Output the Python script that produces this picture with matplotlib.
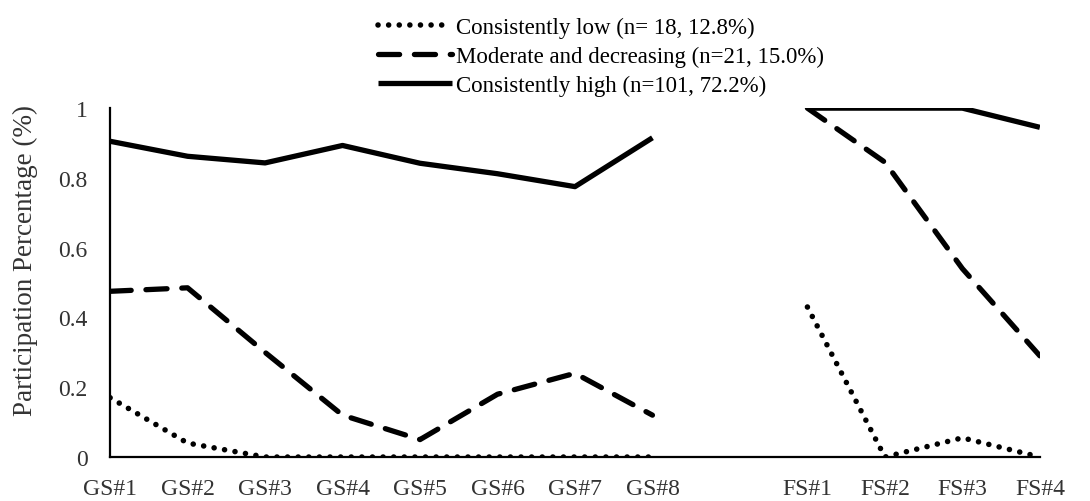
import numpy as np
import matplotlib
matplotlib.use("Agg")
import matplotlib.pyplot as plt

plt.rcParams['font.family'] = ['Liberation Serif', 'DejaVu Serif']

categories = ["GS#1", "GS#2", "GS#3", "GS#4", "GS#5", "GS#6", "GS#7", "GS#8",
              "", "FS#1", "FS#2", "FS#3", "FS#4"]
low = [0.17, 0.04, 0.0, 0.0, 0.0, 0.0, 0.0, 0.0, np.nan, 0.43, 0.0, 0.055, 0.0]
moderate = [0.475, 0.485, 0.30, 0.12, 0.05, 0.18, 0.24, 0.12, np.nan, 1.0, 0.845, 0.54, 0.29]
high = [0.905, 0.862, 0.843, 0.893, 0.842, 0.812, 0.775, 0.915, np.nan, 1.0, 1.0, 1.0, 0.945]
labels = ["Consistently low (n= 18, 12.8%)",
          "Moderate and decreasing (n=21, 15.0%)",
          "Consistently high (n=101, 72.2%)"]
yticks = [0, 0.2, 0.4, 0.6, 0.8, 1]
ytick_labels = ["0", "0.2", "0.4", "0.6", "0.8", "1"]

fig = plt.figure(figsize=(10.9, 5.02), dpi=100)
ax = fig.add_axes([0.101, 0.0876, 0.853, 0.695])
x = np.arange(len(categories))

ax.plot(x, low, color='black', lw=4.0, linestyle=(0, (0.01, 1.9)),
        dash_capstyle='round', label=labels[0])
ax.plot(x, moderate, color='black', lw=3.8, linestyle=(0, (4.0, 2.8)),
        dash_capstyle='round', label=labels[1])
ax.plot(x, high, color='black', lw=3.8, solid_capstyle='butt', label=labels[2])

ax.set_xlim(0, len(categories) - 1)
ax.set_ylim(0, 1)
ax.set_xticks(x)
ax.set_xticklabels(categories, fontsize=17)
ax.set_yticks(yticks)
ax.set_yticklabels(ytick_labels, fontsize=17)
ax.tick_params(axis='both', length=0, colors='#333333')
ax.tick_params(axis='x', pad=15)
ax.tick_params(axis='y', pad=16)
for s in ['top', 'right']:
    ax.spines[s].set_visible(False)
for s in ['left', 'bottom']:
    ax.spines[s].set_linewidth(1.6)
    ax.spines[s].set_color('black')
ax.set_ylabel("Participation Percentage (%)", fontsize=19.5, color='#333333')
ax.yaxis.set_label_coords(-0.077, 0.565)

fig.legend(loc='upper left', bbox_to_anchor=(0.347, 0.965), frameon=False,
           fontsize=16.5, handlelength=3.2, handletextpad=0.2,
           borderaxespad=0, borderpad=0, labelspacing=0.35)

fig.savefig("out.png", dpi=100)
